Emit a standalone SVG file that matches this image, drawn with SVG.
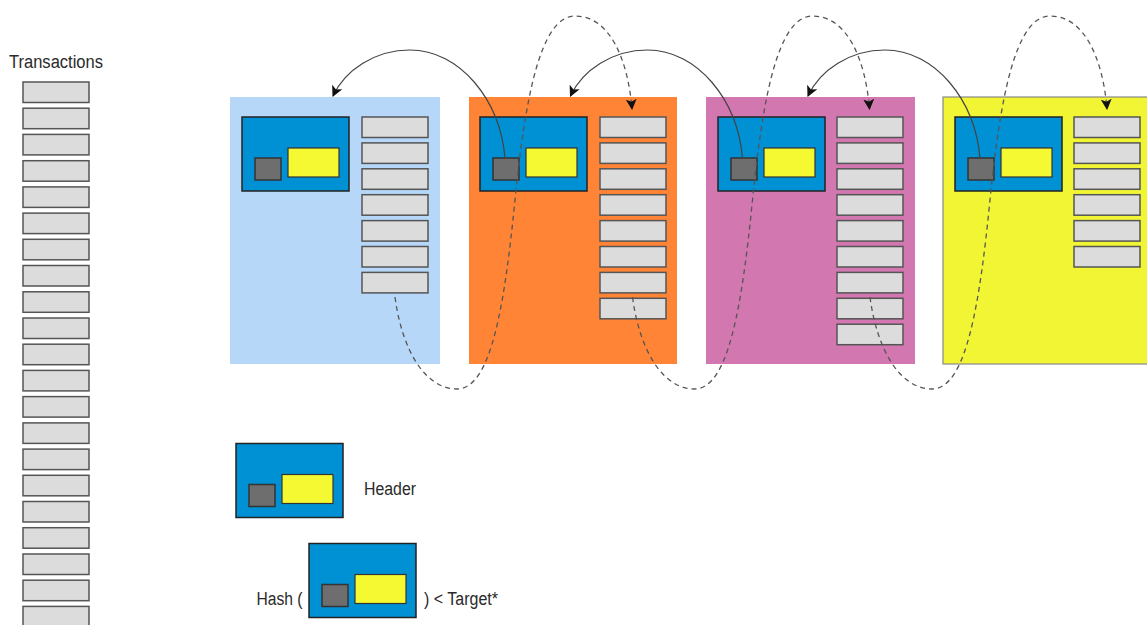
<svg xmlns="http://www.w3.org/2000/svg" xmlns:xlink="http://www.w3.org/1999/xlink" width="1147" height="625" viewBox="0 0 1147 625">
<style>
.tx{fill:#DCDCDC;stroke:#555;stroke-width:1.5}
.hdr{fill:#0091D5;stroke:#222;stroke-width:1.5}
.sq{fill:#6E6E6E;stroke:#333;stroke-width:1.5}
.yl{fill:#F4F932;stroke:#333;stroke-width:1.2}
.lbl{font-family:"Liberation Sans Narrow","Liberation Sans",Arial,sans-serif;font-size:18px;fill:#2a2a2a}
.solid{fill:none;stroke:#444;stroke-width:1.2;marker-end:url(#ah)}
.dash{fill:none;stroke:#555;stroke-width:1.3;stroke-dasharray:5 4;marker-end:url(#ah)}
</style>
<defs>
<marker id="ah" viewBox="0 0 10 10" refX="9" refY="5" markerWidth="11" markerHeight="11" markerUnits="userSpaceOnUse" orient="auto">
<path d="M0,0 L10,5 L0,10 L2.5,5 z" fill="#111"/>
</marker>
<g id="header">
<rect class="hdr" x="0" y="0" width="107" height="74"/>
<rect class="sq" x="13" y="41" width="26" height="22"/>
<rect class="yl" x="46" y="31" width="51" height="29"/>
</g>
<rect id="txb" class="tx" width="66" height="20.5"/>
</defs>
<rect width="1147" height="625" fill="#fff"/>

<g id="transactions">
<text class="lbl" x="9" y="68" textLength="94" lengthAdjust="spacingAndGlyphs">Transactions</text>
<use xlink:href="#txb" x="23" y="82"/>
<use xlink:href="#txb" x="23" y="108.2"/>
<use xlink:href="#txb" x="23" y="134.4"/>
<use xlink:href="#txb" x="23" y="160.7"/>
<use xlink:href="#txb" x="23" y="186.9"/>
<use xlink:href="#txb" x="23" y="213.1"/>
<use xlink:href="#txb" x="23" y="239.3"/>
<use xlink:href="#txb" x="23" y="265.5"/>
<use xlink:href="#txb" x="23" y="291.8"/>
<use xlink:href="#txb" x="23" y="318"/>
<use xlink:href="#txb" x="23" y="344.2"/>
<use xlink:href="#txb" x="23" y="370.4"/>
<use xlink:href="#txb" x="23" y="396.6"/>
<use xlink:href="#txb" x="23" y="422.9"/>
<use xlink:href="#txb" x="23" y="449.1"/>
<use xlink:href="#txb" x="23" y="475.3"/>
<use xlink:href="#txb" x="23" y="501.5"/>
<use xlink:href="#txb" x="23" y="527.7"/>
<use xlink:href="#txb" x="23" y="554"/>
<use xlink:href="#txb" x="23" y="580.2"/>
<use xlink:href="#txb" x="23" y="606.4"/>
</g>

<g id="block1">
<rect x="230" y="97" width="210" height="267" fill="#B6D7F7"/>
<use xlink:href="#header" x="242" y="117"/>
<use xlink:href="#txb" x="362" y="117"/>
<use xlink:href="#txb" x="362" y="142.9"/>
<use xlink:href="#txb" x="362" y="168.8"/>
<use xlink:href="#txb" x="362" y="194.7"/>
<use xlink:href="#txb" x="362" y="220.6"/>
<use xlink:href="#txb" x="362" y="246.5"/>
<use xlink:href="#txb" x="362" y="272.4"/>
</g>

<g id="block2">
<rect x="469" y="97" width="208" height="267" fill="#FF8436"/>
<use xlink:href="#header" x="480" y="117"/>
<use xlink:href="#txb" x="600" y="117"/>
<use xlink:href="#txb" x="600" y="142.9"/>
<use xlink:href="#txb" x="600" y="168.8"/>
<use xlink:href="#txb" x="600" y="194.7"/>
<use xlink:href="#txb" x="600" y="220.6"/>
<use xlink:href="#txb" x="600" y="246.5"/>
<use xlink:href="#txb" x="600" y="272.4"/>
<use xlink:href="#txb" x="600" y="298.3"/>
</g>

<g id="block3">
<rect x="706" y="97" width="209" height="267" fill="#D277B0"/>
<use xlink:href="#header" x="718" y="117"/>
<use xlink:href="#txb" x="837" y="117"/>
<use xlink:href="#txb" x="837" y="142.9"/>
<use xlink:href="#txb" x="837" y="168.8"/>
<use xlink:href="#txb" x="837" y="194.7"/>
<use xlink:href="#txb" x="837" y="220.6"/>
<use xlink:href="#txb" x="837" y="246.5"/>
<use xlink:href="#txb" x="837" y="272.4"/>
<use xlink:href="#txb" x="837" y="298.3"/>
<use xlink:href="#txb" x="837" y="324.2"/>
</g>

<g id="block4">
<rect x="943" y="97" width="210" height="267" fill="#F2F533" stroke="#888" stroke-width="1.2"/>
<use xlink:href="#header" x="955" y="117"/>
<use xlink:href="#txb" x="1074" y="117"/>
<use xlink:href="#txb" x="1074" y="142.9"/>
<use xlink:href="#txb" x="1074" y="168.8"/>
<use xlink:href="#txb" x="1074" y="194.7"/>
<use xlink:href="#txb" x="1074" y="220.6"/>
<use xlink:href="#txb" x="1074" y="246.5"/>
</g>

<g id="legend-header">
<use xlink:href="#header" x="236" y="443.5"/>
<text class="lbl" x="364" y="495" textLength="52" lengthAdjust="spacingAndGlyphs">Header</text>
</g>

<g id="legend-hash">
<text class="lbl" x="256.5" y="605" textLength="46" lengthAdjust="spacingAndGlyphs">Hash (</text>
<use xlink:href="#header" x="309" y="543.5"/>
<text class="lbl" x="424" y="605" textLength="74" lengthAdjust="spacingAndGlyphs">) &lt; Target*</text>
</g>

<g id="connectors">
<path class="solid" d="M505,158 C500,100 460,50 410,50 C375,50 345,70 333,96"/>
<path class="solid" d="M742.5,158 C737.5,100 697.5,50 647.5,50 C612.5,50 582.5,70 570.5,96"/>
<path class="solid" d="M980,158 C975,100 935,50 885,50 C850,50 820,70 808,96"/>
<path class="dash" d="M395,297 C402,350 425,389 457,389 C492,389 505,300 515,200 C525,100 540,16 575,16 C610,16 628,60 632,109"/>
<path class="dash" d="M632.5,297 C639.5,350 662.5,389 694.5,389 C729.5,389 742.5,300 752.5,200 C762.5,100 777.5,16 812.5,16 C847.5,16 865.5,60 869.5,109"/>
<path class="dash" d="M870,297 C877,350 900,389 932,389 C967,389 980,300 990,200 C1000,100 1015,16 1050,16 C1085,16 1103,60 1107,109"/>
</g>
</svg>
